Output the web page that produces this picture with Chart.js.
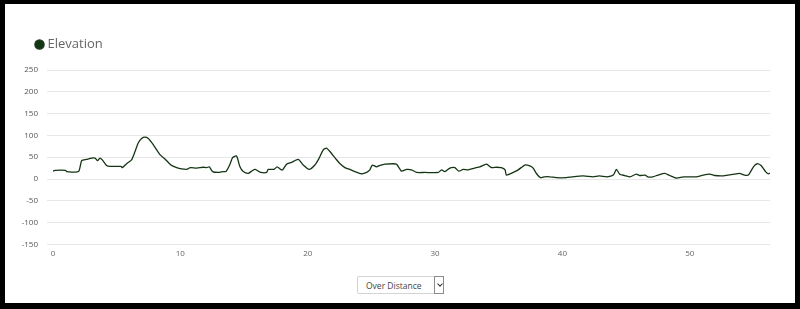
<!DOCTYPE html>
<html>
<head>
<meta charset="utf-8">
<script src="https://cdn.jsdelivr.net/npm/chart.js@4.4.1/dist/chart.umd.min.js"></script>
<style>
  html,body{margin:0;padding:0;background:#000;}
  body{width:800px;height:309px;position:relative;overflow:hidden;font-family:'Open Sans',sans-serif;}
  .panel{position:absolute;left:5px;top:4px;width:790px;height:299px;background:#fff;}
  .wrap{position:absolute;left:0;top:0;width:800px;height:270px;}
  .pick{position:absolute;left:357px;top:276px;width:87px;height:18px;border:1px solid #d4d4d4;border-radius:2px;background:#fff;box-sizing:border-box;}
  .pick span{position:absolute;left:8px;top:3px;font-size:8.5px;color:#444;line-height:11px;}
  .pick .arr{position:absolute;right:-1px;top:-1px;width:10px;height:18px;border:1px solid #8a8a8a;box-sizing:border-box;background:#fff;}
  .pick .arr:after{content:'';position:absolute;left:2.5px;top:5px;width:3px;height:3px;border-right:1px solid #333;border-bottom:1px solid #333;transform:rotate(45deg);}
</style>
</head>
<body>
<div class="panel"></div>
<div class="wrap"><canvas id="chartElev"></canvas></div>
<div class="pick"><span>Over Distance</span><div class="arr"></div></div>
<script>
const distanceKm=[0,0.16,1.0,1.07,2.0,2.25,2.64,3.03,3.3,3.5,3.69,3.87,4.21,4.47,5.34,5.44,5.78,6.17,6.44,6.7,6.96,7.22,7.48,7.87,8.4,8.79,9.26,9.71,10.1,10.5,10.78,
  11.28,11.8,12.06,12.27,12.53,12.98,13.37,13.58,13.9,14.1,14.41,14.68,14.94,15.33,15.6,15.86,16.12,16.3,16.77,16.9,17.35,17.6,17.87,18.03,18.34,18.73,19.26,19.65,20.12,20.56,20.9,21.22,21.48,21.74,22.16,
  22.5,22.92,23.3,23.7,24.23,24.62,24.88,25.07,25.4,25.67,26.06,26.71,26.98,27.37,27.76,28.15,28.55,29.2,30.25,30.51,30.77,31.16,31.55,31.87,32.2,32.6,33.1,33.52,
  34.04,34.43,34.83,35.2,35.5,35.6,36.14,36.53,37.05,37.44,37.7,37.97,38.28,38.6,39.0,39.5,40.3,40.8,41.62,42.4,42.9,43.5,44.0,44.24,44.5,44.9,
  45.3,45.8,46.07,46.5,46.7,47.1,47.5,48.04,48.43,48.96,49.5,50.5,51.05,51.57,51.97,52.5,53.0,53.5,53.9,54.3,54.6,55.0,55.3,55.6,55.95,56.15,56.3];
const elevationM=[18,20,20,17,17,42,45,48,48,42,48,44,31,29,29,26,35,44,63,83,93,96,93,79,56,46,32,26,23,22,26,
  25,27,26,28,17,15,17,17,34,49,53,28,17,13,18,22,18,15,15,22,22,28,22,21,34,38,45,32,22,32,48,67,71,63,48,
  36,26,22,17,12,15,21,32,28,31,34,35,34,18,22,21,15,15,15,21,17,25,26,18,22,21,25,28,
  34,26,27,26,21,9,15,21,32,30,25,12,3,5,5,3,3,5,7,5,7,5,9,22,11,8,
  5,11,8,9,5,5,9,13,8,2,5,5,9,11,8,7,9,11,13,9,9,28,35,31,17,12,13];
const xTicks=[0,10,20,30,40,50];
const yTicks=[-150,-100,-50,0,50,100,150,200,250];
const seriesName='Elevation';

const lineColor='#143514';
const tickFont={family:'Open Sans',size:8};

const legendGap={
  id:'legendGap',
  beforeInit(chart){
    const fit=chart.legend.fit;
    chart.legend.fit=function(){ fit.call(this); this.height+=9; };
  }
};

new Chart(document.getElementById('chartElev'),{
  type:'line',
  data:{
    datasets:[{
      label:seriesName,
      data:distanceKm.map((d,i)=>({x:d,y:elevationM[i]})),
      borderColor:lineColor,
      backgroundColor:lineColor,
      borderWidth:1.3,
      pointRadius:0,
      tension:0.2,
      fill:false
    }]
  },
  options:{
    responsive:true,
    maintainAspectRatio:false,
    animation:false,
    layout:{padding:{left:20,right:30,top:20,bottom:6}},
    plugins:{
      legend:{
        align:'start',
        labels:{usePointStyle:true,boxWidth:3,boxHeight:6.5,padding:18,color:'#666',font:{family:'Open Sans',size:13}}
      },
      tooltip:{enabled:false}
    },
    scales:{
      x:{
        type:'linear',
        min:xTicks[0],
        max:distanceKm[distanceKm.length-1],
        grid:{display:false,drawTicks:false},
        border:{display:false},
        ticks:{color:'#666',font:tickFont,padding:5,maxRotation:0},
        afterBuildTicks:(s)=>{ s.ticks=xTicks.map(v=>({value:v})); }
      },
      y:{
        min:yTicks[0],
        max:yTicks[yTicks.length-1],
        grid:{color:'#e6e6e6',tickLength:6},
        border:{display:false},
        ticks:{color:'#555',font:tickFont,padding:9},
        afterBuildTicks:(s)=>{ s.ticks=yTicks.map(v=>({value:v})); },
        afterFit:(s)=>{ s.width=33; }
      }
    }
  },
  plugins:[legendGap]
});
</script>
</body>
</html>
